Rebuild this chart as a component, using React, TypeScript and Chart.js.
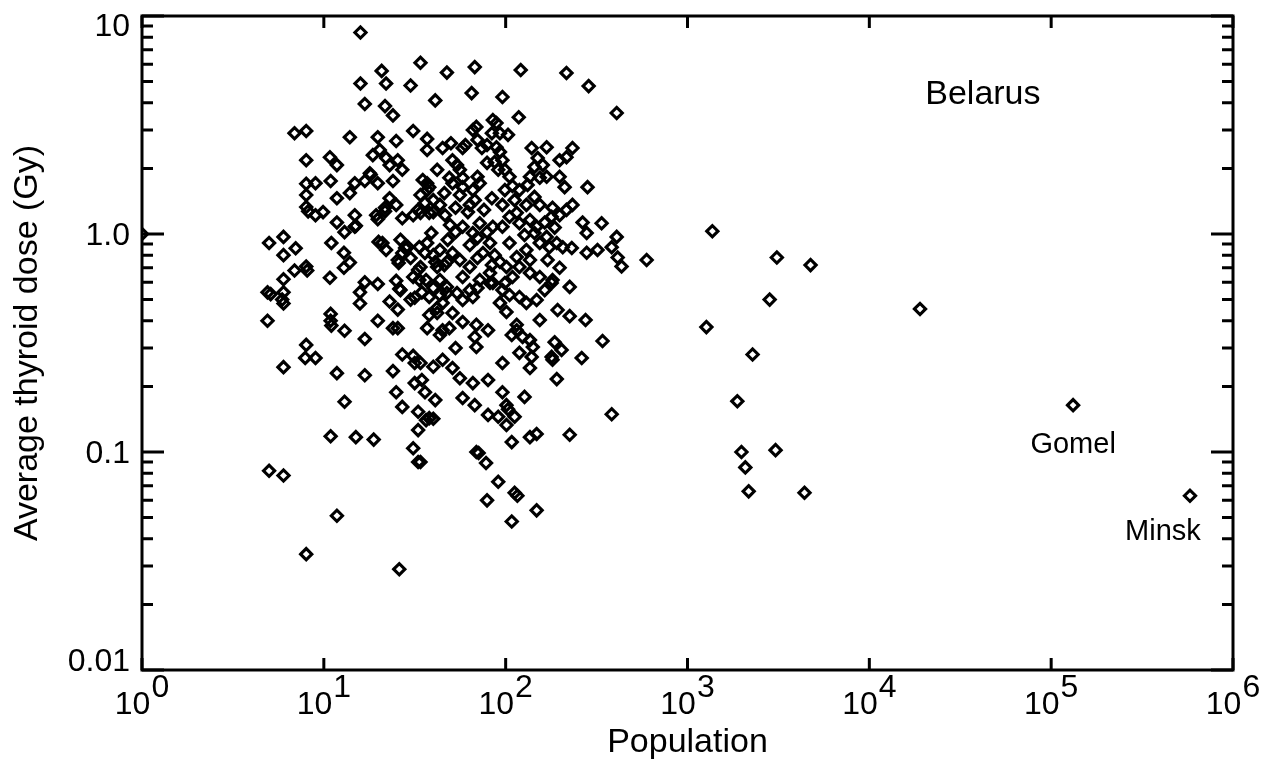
import React, { useEffect, useRef } from 'react';
import { Chart, registerables } from 'chart.js';

Chart.register(...registerables);

// Population (x) and average thyroid dose in Gy (y)
const population = [
  1, 5.0, 6.0, 7.0, 6.0, 8.0, 8.1, 6.9, 6.0, 4.9, 5.1, 6.0, 5.9, 6.0, 4.9, 5.0, 6.0, 8.0, 11.8, 26,
  6.9, 8.0, 8.0, 8.0, 9.0, 8.0, 8.0, 8.2, 9.0, 9.9, 10.9, 10.8, 11.8, 11.8, 13.9, 14.8, 16.8, 17.9, 19.8, 24,
  11.8, 14.8, 15.0, 13.0, 19.8, 21.7, 25, 27, 31, 34, 15.9, 34, 20.8, 47.5, 15.9, 22, 30, 41, 16.8, 21.7,
  24, 13.9, 19.8, 25, 31, 37, 37, 45, 18.6, 20.3, 22, 23, 25.5, 27, 42, 35, 37, 38, 36, 33,
  38, 11.0, 12.9, 13.9, 12.9, 10.8, 10.9, 10.9, 11.0, 13.0, 16.8, 19.8, 15.8, 15.8, 16.8, 8.0, 7.9, 9.0, 6.0, 11.8,
  16.8, 13.0, 10.9, 15.0, 18.8, 25, 26, 23, 25.5, 19.8, 24, 25.5, 27, 31, 31.6, 24, 25, 27, 31.6, 34.6,
  36, 41, 33, 36.5, 38, 37, 43.5, 45, 31.6, 34.6, 38, 38, 42, 43.5, 45, 45, 40, 25.8, 30, 28,
  31, 33, 36.5, 42, 20, 21, 31, 33, 33, 22, 26.4, 27, 25.5, 29, 33.5, 37, 40, 34, 26.4, 30,
  33.5, 42, 18.1, 23, 21.7, 19.4, 34, 40, 40, 14.8, 37, 65, 96, 118, 286, 408, 69, 66, 85, 89,
  93, 103, 50, 60, 58, 70, 74, 79, 84, 89, 93, 96, 87, 79, 99, 91, 51, 54, 56, 49,
  51, 58, 58, 46, 66, 70, 72, 84, 96, 105, 109, 139, 168, 150, 144, 160, 136, 154, 168, 132,
  198, 216, 233, 198, 211, 282, 144, 130, 154, 181, 179, 216, 233, 265, 279, 337, 408, 383, 413, 434,
  279, 320, 231, 596, 39, 43.5, 36, 41, 46, 58, 66, 72, 79, 85, 96, 105, 115, 119, 136, 148,
  144, 168, 154, 174, 191, 206, 51, 56, 63.5, 58, 75, 82, 93, 101, 115, 130, 119, 109, 136, 154,
  181, 225, 43.5, 47.5, 54, 63.5, 72, 85, 96, 67.6, 121, 216, 179, 193, 225, 275, 341, 262, 186, 203,
  179, 181, 154, 191, 383, 225, 136, 141, 139, 136, 119, 115, 108, 124, 96, 127, 96, 101, 103, 112,
  101, 91, 80, 108, 136, 148, 69, 71, 78, 91, 112, 116, 79, 148, 108, 58, 67.6, 80, 66, 56,
  34, 40, 34, 49, 51, 58, 69, 80, 67.6, 69, 53, 51, 40, 115, 101, 93, 148, 130, 119, 105,
  99, 82, 70, 66, 58, 47.5, 1370, 3100, 4750, 19000, 132000, 580000, 1270, 2830, 2280, 1880, 1980, 2080, 2170, 3050,
  4400, 46.4, 49.4, 53, 62, 67.6, 76, 99, 112, 119, 48, 53, 63.5, 70, 82, 87, 105, 127, 164, 186,
  198, 63.5, 56, 43.5, 47.5, 84, 70, 136, 170, 198, 164,
];

const dose = [
  1.0, 0.91, 0.97, 0.86, 0.80, 0.71, 0.68, 0.68, 0.62, 0.54, 0.53, 0.54, 0.50, 0.48, 0.40, 0.082, 0.078, 0.034, 0.051, 0.029,
  2.9, 2.97, 2.18, 1.70, 1.71, 1.51, 1.33, 1.27, 1.22, 1.26, 1.75, 2.25, 2.07, 1.46, 1.54, 1.71, 1.75, 1.90, 1.71, 1.75,
  1.13, 1.22, 1.09, 1.02, 1.17, 1.27, 1.36, 1.18, 1.22, 1.25, 8.4, 6.1, 5.6, 5.5, 4.9, 4.9, 4.8, 4.1, 3.95, 3.86,
  3.5, 2.78, 2.78, 2.67, 2.97, 2.73, 2.43, 2.48, 2.3, 2.43, 2.23, 2.07, 2.18, 1.97, 1.97, 1.77, 1.71, 1.64, 1.39, 1.29,
  1.25, 0.91, 0.82, 0.74, 0.70, 0.63, 0.43, 0.40, 0.38, 0.36, 0.60, 0.59, 0.54, 0.48, 0.33, 0.31, 0.27, 0.27, 0.245, 0.23,
  0.225, 0.17, 0.118, 0.117, 0.114, 0.61, 0.56, 0.49, 0.45, 0.40, 0.37, 0.37, 0.28, 0.276, 0.256, 0.235, 0.188, 0.161, 0.207, 0.214,
  0.188, 0.173, 0.153, 0.14, 0.143, 0.37, 0.344, 0.362, 0.51, 0.54, 0.514, 0.425, 0.458, 0.525, 0.483, 0.265, 0.566, 0.736, 0.776, 0.863,
  0.635, 0.684, 0.615, 0.706, 0.92, 0.91, 0.104, 0.09, 0.126, 0.845, 0.94, 0.818, 0.76, 0.872, 0.872, 0.91, 0.80, 0.706, 0.553, 0.50,
  0.615, 0.434, 1.87, 1.46, 1.32, 1.22, 1.51, 1.43, 1.26, 1.08, 1.59, 4.43, 4.25, 3.43, 4.77, 3.59, 3.1, 3.0, 3.33, 3.23,
  2.9, 2.85, 2.61, 2.56, 2.48, 2.7, 2.48, 2.56, 2.9, 2.5, 2.38, 2.18, 2.14, 2.12, 1.97, 1.97, 2.18, 2.07, 1.97, 1.81,
  1.71, 1.81, 1.64, 1.54, 1.59, 1.83, 1.71, 1.46, 1.36, 1.83, 1.66, 2.48, 2.5, 2.23, 2.03, 2.07, 1.83, 1.81, 1.83, 1.68,
  2.18, 2.25, 2.48, 1.83, 1.64, 1.64, 1.48, 1.36, 1.36, 1.32, 1.2, 1.29, 1.36, 1.13, 1.01, 1.12, 0.97, 0.87, 0.78, 0.71,
  0.82, 0.845, 0.863, 0.76, 1.01, 0.845, 0.818, 0.744, 0.72, 1.08, 1.01, 1.12, 1.02, 1.08, 1.08, 1.2, 1.25, 1.12, 1.16, 1.08,
  1.01, 0.97, 0.91, 0.87, 0.91, 0.87, 0.818, 0.76, 0.706, 0.635, 0.818, 0.663, 0.744, 0.706, 0.784, 0.845, 0.706, 0.635, 0.663, 0.635,
  0.615, 0.572, 0.615, 0.572, 0.536, 0.553, 0.615, 0.596, 0.553, 5.83, 5.65, 5.48, 0.596, 0.448, 0.42, 0.403, 0.323, 0.27, 0.319, 0.294,
  0.273, 0.265, 0.403, 0.216, 0.149, 0.12, 0.326, 0.303, 0.273, 0.243, 0.285, 0.383, 0.344, 0.337, 0.256, 0.179, 0.188, 0.164, 0.157, 0.145,
  0.133, 0.145, 0.148, 0.111, 0.117, 0.121, 0.1, 0.099, 0.089, 0.073, 0.065, 0.063, 0.06, 0.054, 0.048, 0.177, 0.164, 0.214, 0.207, 0.218,
  0.256, 0.142, 0.09, 0.37, 0.434, 0.395, 0.383, 0.362, 0.337, 0.303, 0.3, 0.243, 0.246, 0.362, 0.439, 0.483, 0.498, 0.483, 0.514, 0.525,
  0.596, 0.596, 0.566, 0.514, 0.498, 0.536, 1.03, 0.78, 0.72, 0.453, 0.164, 0.063, 0.374, 0.5, 0.28, 0.171, 0.1, 0.085, 0.066, 0.102,
  0.065, 1.22, 1.1, 1.32, 1.26, 1.43, 1.29, 1.59, 1.43, 1.59, 0.94, 1.02, 0.89, 0.96, 0.91, 0.80, 0.91, 0.99, 1.13, 1.07,
  1.22, 1.36, 1.51, 1.36, 0.744, 0.72, 0.776, 0.76, 0.76, 0.7, 0.553,
];

const xMin = 1;
const xMax = 1e6;
const yMin = 0.01;
const yMax = 10;
const xTickExponents = [0, 1, 2, 3, 4, 5, 6];
const yTickValues = [0.01, 0.1, 1, 10];
const yTickLabels = ['0.01', '0.1', '1.0', '10'];
const yMinorMultipliers = [2, 3, 4, 5, 6, 7, 8, 9];

const xTitle = 'Population';
const yTitle = 'Average thyroid dose (Gy)';

const labelTexts = ['Belarus', 'Gomel', 'Minsk'];
const labelX = [20300, 76900, 255000];
const labelY = [3.95, 0.099, 0.0395];
const labelSizes = [34, 29, 29];

const FONT = '"Liberation Sans", Arial, Helvetica, sans-serif';

const framePlugin = {
  id: 'idlFrame',
  afterDatasetsDraw(chart: any) {
    const { ctx, chartArea: a, scales } = chart;
    const xs = scales.x;
    const ys = scales.y;
    ctx.save();
    ctx.strokeStyle = '#000';
    ctx.fillStyle = '#000';
    ctx.lineWidth = 3;
    ctx.lineCap = 'butt';
    ctx.lineJoin = 'miter';
    ctx.strokeRect(a.left, a.top, a.right - a.left, a.bottom - a.top);

    // y ticks (major + minor), on left and right, pointing inwards
    ctx.beginPath();
    for (const d of yTickValues) {
      const mults = [1, ...yMinorMultipliers];
      for (const m of mults) {
        const v = d * m;
        if (v > yMax * 1.0001) continue;
        const py = ys.getPixelForValue(v);
        const len = m === 1 ? 22 : 11;
        ctx.moveTo(a.left, py);
        ctx.lineTo(a.left + len, py);
        ctx.moveTo(a.right, py);
        ctx.lineTo(a.right - len, py);
      }
    }
    // x ticks, bottom and top, pointing inwards
    for (const e of xTickExponents) {
      const px = xs.getPixelForValue(Math.pow(10, e));
      ctx.moveTo(px, a.bottom);
      ctx.lineTo(px, a.bottom - 12);
      ctx.moveTo(px, a.top);
      ctx.lineTo(px, a.top + 12);
    }
    ctx.stroke();

    // y tick labels
    ctx.font = `32px ${FONT}`;
    ctx.textAlign = 'right';
    ctx.textBaseline = 'alphabetic';
    yTickValues.forEach((v, i) => {
      const py = ys.getPixelForValue(v);
      const base = Math.min(Math.max(py + 11, a.top + 20), a.bottom + 1);
      ctx.fillText(yTickLabels[i], 130, base);
    });

    // x tick labels: 10 with superscript exponent
    ctx.textAlign = 'left';
    for (const e of xTickExponents) {
      const px = xs.getPixelForValue(Math.pow(10, e));
      const w1 = ctx.measureText('10').width;
      const w2 = ctx.measureText(String(e)).width;
      const total = w1 + 1 + w2;
      const start = px - total / 2;
      ctx.fillText('10', start, a.bottom + 44);
      ctx.fillText(String(e), start + w1 + 1, a.bottom + 27);
    }

    // axis titles
    ctx.font = `34px ${FONT}`;
    ctx.textAlign = 'center';
    ctx.fillText(xTitle, (a.left + a.right) / 2, a.bottom + 82);
    ctx.save();
    ctx.translate(37, (a.top + a.bottom) / 2);
    ctx.rotate(-Math.PI / 2);
    ctx.fillText(yTitle, 0, 0);
    ctx.restore();

    // annotations
    ctx.textAlign = 'left';
    labelTexts.forEach((t, i) => {
      ctx.font = `${labelSizes[i]}px ${FONT}`;
      ctx.fillText(t, xs.getPixelForValue(labelX[i]), ys.getPixelForValue(labelY[i]));
    });
    ctx.restore();
  },
};

export default function App() {
  const canvasRef = useRef<HTMLCanvasElement | null>(null);

  useEffect(() => {
    document.body.style.margin = '0';
    const canvas = canvasRef.current;
    if (!canvas) return;
    const points = population.map((p, i) => ({ x: p, y: dose[i] }));
    const chart = new Chart(canvas, {
      type: 'scatter',
      data: {
        datasets: [
          {
            data: points,
            pointStyle: 'rectRot',
            radius: 5.6,
            hoverRadius: 5.6,
            borderWidth: 3.1,
            hoverBorderWidth: 3.1,
            borderColor: '#000',
            backgroundColor: 'rgba(0,0,0,0)',
            clip: 0,
          } as any,
        ],
      },
      options: {
        animation: false,
        responsive: false,
        devicePixelRatio: 1,
        events: [],
        layout: { padding: { left: 0, top: 16, right: 45, bottom: 0 } },
        plugins: {
          legend: { display: false },
          tooltip: { enabled: false },
          title: { display: false },
        },
        scales: {
          x: {
            type: 'logarithmic',
            min: xMin,
            max: xMax,
            grid: { display: false },
            border: { display: false },
            ticks: { display: false },
            afterFit: (s: any) => {
              s.height = 95;
            },
          },
          y: {
            type: 'logarithmic',
            min: yMin,
            max: yMax,
            grid: { display: false },
            border: { display: false },
            ticks: { display: false },
            afterFit: (s: any) => {
              s.width = 142;
            },
          },
        },
      },
      plugins: [framePlugin],
    });
    return () => chart.destroy();
  }, []);

  return (
    <div style={{ width: 1278, height: 765, background: '#fff' }}>
      <canvas ref={canvasRef} width={1278} height={765} style={{ display: 'block' }} />
    </div>
  );
}
